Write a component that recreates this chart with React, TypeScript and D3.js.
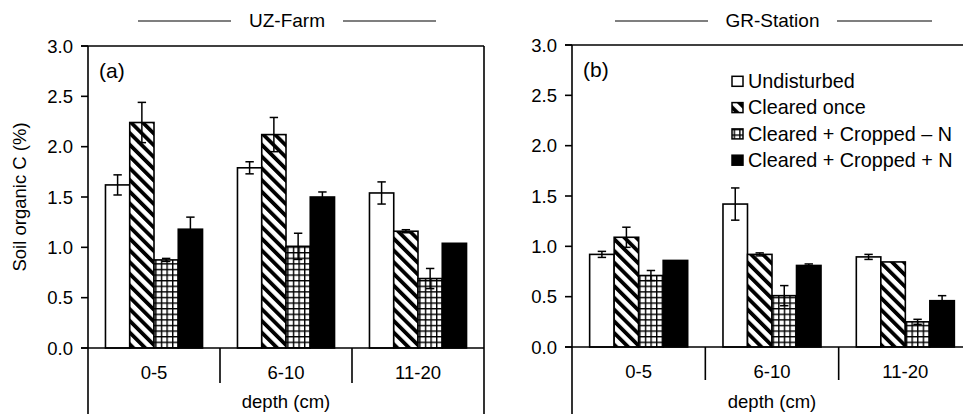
import React from 'react';
import * as d3 from 'd3';

const categories = ['0-5', '6-10', '11-20'];
const seriesNames = ['Undisturbed', 'Cleared once', 'Cleared + Cropped \u2013 N', 'Cleared + Cropped + N'];
const yTicks = [0, 0.5, 1.0, 1.5, 2.0, 2.5, 3.0];

// UZ-Farm (a)
const uzUndisturbed = [1.62, 1.79, 1.54];
const uzUndisturbedErr = [0.10, 0.06, 0.11];
const uzClearedOnce = [2.24, 2.12, 1.16];
const uzClearedOnceErr = [0.20, 0.17, 0.015];
const uzCroppedMinusN = [0.875, 1.01, 0.69];
const uzCroppedMinusNErr = [0.015, 0.13, 0.10];
const uzCroppedPlusN = [1.18, 1.50, 1.04];
const uzCroppedPlusNErr = [0.12, 0.05, 0];

// GR-Station (b)
const grUndisturbed = [0.92, 1.42, 0.895];
const grUndisturbedErr = [0.03, 0.16, 0.025];
const grClearedOnce = [1.09, 0.92, 0.845];
const grClearedOnceErr = [0.10, 0.015, 0];
const grCroppedMinusN = [0.71, 0.51, 0.25];
const grCroppedMinusNErr = [0.05, 0.10, 0.025];
const grCroppedPlusN = [0.86, 0.81, 0.46];
const grCroppedPlusNErr = [0, 0.015, 0.05];

const fills = ['#ffffff', 'url(#hatch)', 'url(#grid)', '#000000'];
const FONT = '"Liberation Sans", Arial, sans-serif';

type PanelProps = {
  title: string;
  label: string;
  x0: number;
  x1: number;
  yTop: number;
  yBottom: number;
  means: number[][];
  errs: number[][];
  titleLines: [number, number, number, number];
  dividerBottom: number;
  showLegend?: boolean;
};

function Panel(p: PanelProps) {
  const y = d3.scaleLinear().domain([0, 3]).range([p.yBottom, p.yTop]);
  const xOuter = d3.scaleBand<string>().domain(categories).range([p.x0, p.x1]).padding(0);
  const xInner = d3
    .scaleBand<string>()
    .domain(seriesNames)
    .range([0, xOuter.bandwidth()])
    .paddingInner(0)
    .paddingOuter(0.72);
  const bw = xInner.bandwidth();
  const midX = (p.x0 + p.x1) / 2;
  const sw = 1.6;

  return (
    <g>
      {/* title */}
      <line x1={p.titleLines[0]} x2={p.titleLines[1]} y1={21} y2={21} stroke="#000" strokeWidth={1.2} />
      <line x1={p.titleLines[2]} x2={p.titleLines[3]} y1={21} y2={21} stroke="#000" strokeWidth={1.2} />
      <text x={(p.titleLines[1] + p.titleLines[2]) / 2} y={27} textAnchor="middle" fontSize={19} fontFamily={FONT}>
        {p.title}
      </text>

      {/* bars */}
      {categories.map((c, ci) => (
        <g key={c} transform={`translate(${xOuter(c)},0)`}>
          {seriesNames.map((s, si) => {
            const v = p.means[si][ci];
            const e = p.errs[si][ci];
            const bx = xInner(s)!;
            const cx = bx + bw / 2;
            return (
              <g key={s}>
                <rect
                  x={bx}
                  y={y(v)}
                  width={bw}
                  height={y(0) - y(v)}
                  fill={fills[si]}
                  stroke="#000"
                  strokeWidth={sw}
                />
                {e > 0 && (
                  <g stroke="#000" strokeWidth={1.5}>
                    <line x1={cx} x2={cx} y1={y(v + e)} y2={y(v - e)} />
                    <line x1={cx - 4.2} x2={cx + 4.2} y1={y(v + e)} y2={y(v + e)} />
                    <line x1={cx - 4.2} x2={cx + 4.2} y1={y(v - e)} y2={y(v - e)} />
                  </g>
                )}
              </g>
            );
          })}
        </g>
      ))}

      {/* frame */}
      <g stroke="#000" strokeWidth={1.6} fill="none">
        <line x1={p.x0} x2={p.x0} y1={p.yTop} y2={430} />
        <line x1={p.x1} x2={p.x1} y1={p.yTop} y2={430} />
        <line x1={p.x0 - 7} x2={p.x1} y1={p.yTop} y2={p.yTop} />
        <line x1={p.x0 - 7} x2={p.x1} y1={p.yBottom} y2={p.yBottom} />
        {yTicks.map((t) => (
          <line key={t} x1={p.x0 - 7} x2={p.x0} y1={y(t)} y2={y(t)} />
        ))}
        {categories.slice(1).map((c) => (
          <line key={c} x1={xOuter(c)!} x2={xOuter(c)!} y1={p.yBottom} y2={p.dividerBottom} />
        ))}
      </g>

      {/* tick labels */}
      {yTicks.map((t) => (
        <text
          key={t}
          x={p.x0 - 15}
          y={y(t)}
          dy="0.36em"
          textAnchor="end"
          fontSize={18.5}
          fontFamily={FONT}
        >
          {d3.format('.1f')(t)}
        </text>
      ))}

      {/* category labels */}
      {categories.map((c) => (
        <text
          key={c}
          x={xOuter(c)! + xOuter.bandwidth() / 2}
          y={p.yBottom + 31}
          textAnchor="middle"
          fontSize={18.5}
          fontFamily={FONT}
        >
          {c}
        </text>
      ))}
      <text x={midX} y={408} textAnchor="middle" fontSize={18.5} fontFamily={FONT}>
        depth (cm)
      </text>

      {/* panel label */}
      <text x={p.x0 + 11} y={p.yTop + 32} fontSize={21} fontFamily={FONT}>
        {p.label}
      </text>

      {p.showLegend && (
        <g>
          {seriesNames.map((s, i) => {
            const cy = 81.3 + i * 26.3;
            return (
              <g key={s}>
                <rect x={732} y={cy - 5} width={11} height={10} fill={fills[i]} stroke="#000" strokeWidth={1.5} />
                <text x={748} y={cy + 6.8} fontSize={19.8} fontFamily={FONT}>
                  {s}
                </text>
              </g>
            );
          })}
        </g>
      )}
    </g>
  );
}

export default function App() {
  return (
    <svg
      width={963}
      height={414}
      style={{ position: 'absolute', left: 0, top: 0, background: '#fff' }}
    >
      <defs>
        <pattern id="hatch" patternUnits="userSpaceOnUse" width={8.3} height={8.3} patternTransform="rotate(-45)">
          <rect x={0} y={0} width={8.3} height={8.3} fill="#fff" />
          <rect x={0} y={0} width={3.8} height={8.3} fill="#000" />
        </pattern>
        <pattern id="grid" patternUnits="userSpaceOnUse" width={5.6} height={5.6}>
          <rect x={0} y={0} width={5.6} height={5.6} fill="#fff" />
          <rect x={0} y={0} width={5.6} height={1.4} fill="#000" />
          <rect x={0} y={0} width={1.4} height={5.6} fill="#000" />
        </pattern>
      </defs>
      <rect x={0} y={0} width={963} height={414} fill="#fff" />
      <text
        transform="translate(26,197) rotate(-90)"
        textAnchor="middle"
        fontSize={18.5}
        fontFamily={FONT}
      >
        Soil organic C (%)
      </text>
      <Panel
        title="UZ-Farm"
        label="(a)"
        x0={88}
        x1={484}
        yTop={46}
        yBottom={348}
        means={[uzUndisturbed, uzClearedOnce, uzCroppedMinusN, uzCroppedPlusN]}
        errs={[uzUndisturbedErr, uzClearedOnceErr, uzCroppedMinusNErr, uzCroppedPlusNErr]}
        titleLines={[138, 231, 343, 436]}
        dividerBottom={383}
      />
      <Panel
        title="GR-Station"
        label="(b)"
        x0={572}
        x1={972}
        yTop={45}
        yBottom={347}
        means={[grUndisturbed, grClearedOnce, grCroppedMinusN, grCroppedPlusN]}
        errs={[grUndisturbedErr, grClearedOnceErr, grCroppedMinusNErr, grCroppedPlusNErr]}
        titleLines={[615, 708, 837, 932]}
        dividerBottom={380}
        showLegend
      />
    </svg>
  );
}
